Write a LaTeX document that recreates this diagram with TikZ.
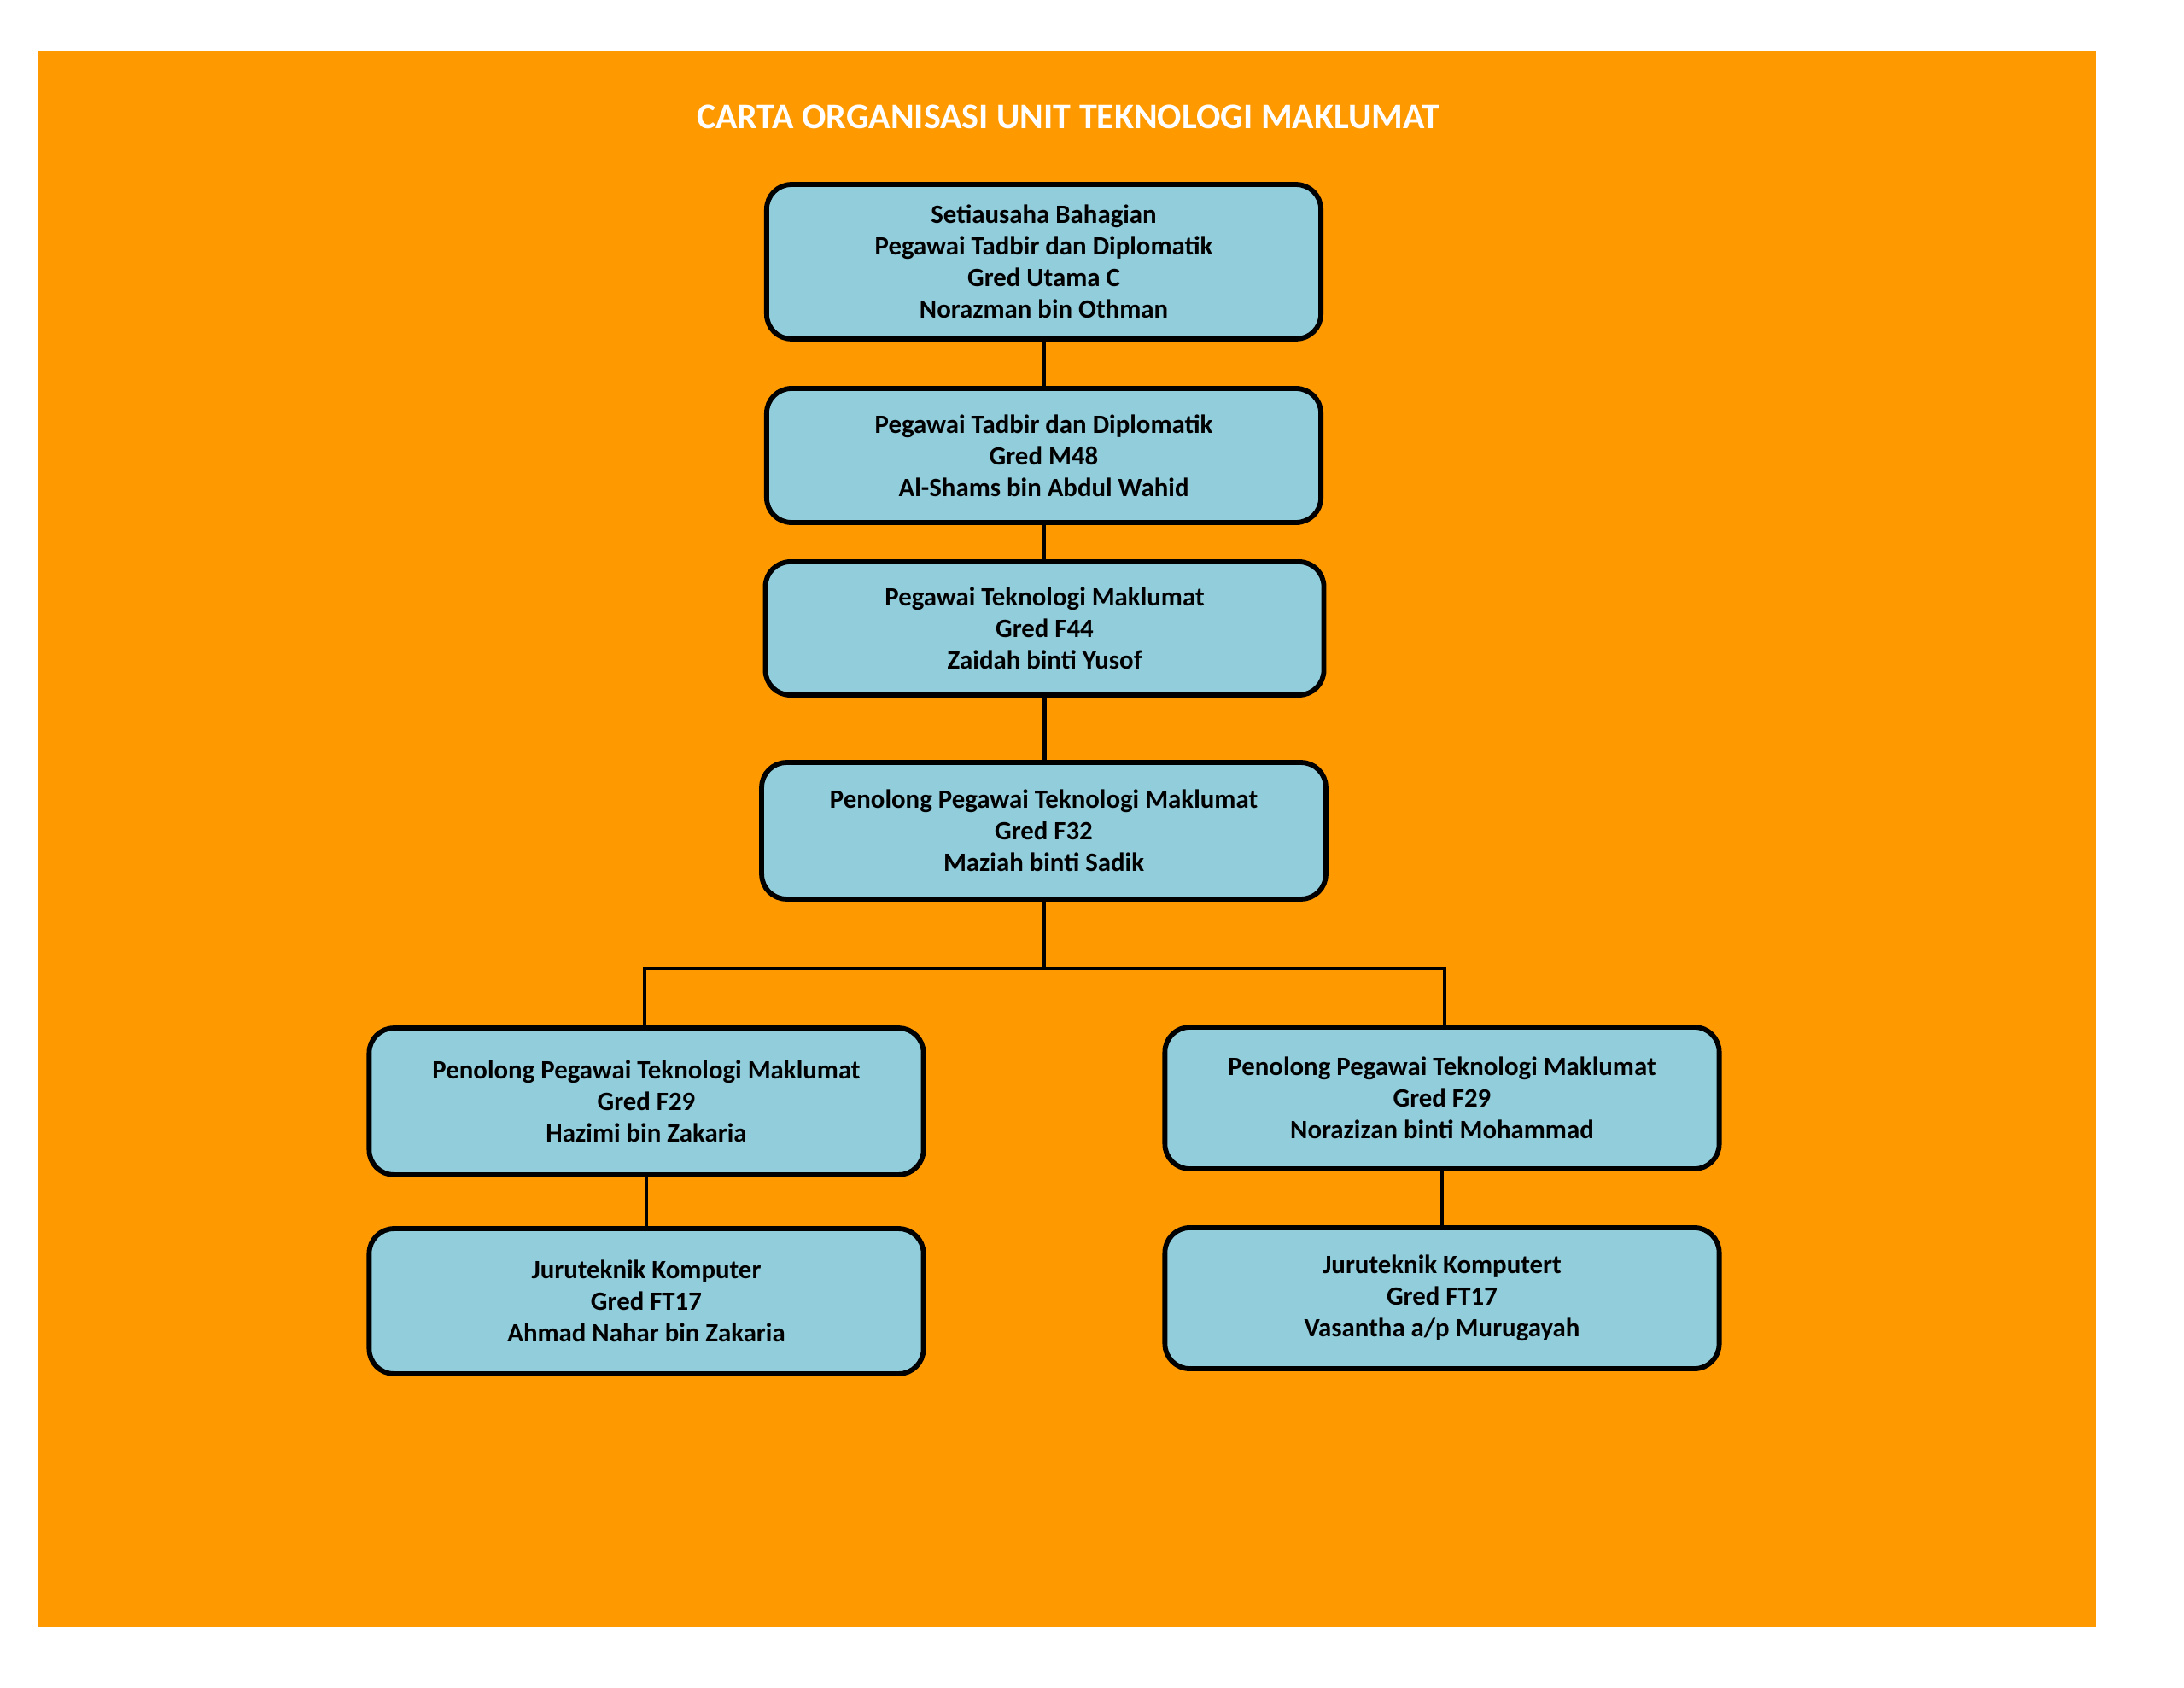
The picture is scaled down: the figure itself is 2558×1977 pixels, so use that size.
\documentclass[tikz,border=0pt]{standalone}
\usepackage{fontspec}
\setmainfont{Carlito}
\definecolor{bgorange}{RGB}{255,153,0}
\definecolor{boxblue}{RGB}{146,205,220}
\begin{document}
\begin{tikzpicture}[x=0.3096pt,y=-0.3096pt,
  orgbox/.style={draw=black,line width=1.8pt,fill=boxblue,rounded corners=9pt,
    align=center,inner sep=0pt,minimum width=201pt,
    font=\bfseries\fontsize{9.55}{11.5}\selectfont},
  link/.style={draw=black,line width=1.25pt}]
\useasboundingbox (0,0) rectangle (2558,1977);
\fill[bgorange] (44,60) rectangle (2455,1905);
\node[text=white,font=\bfseries\fontsize{13}{15}\selectfont,anchor=base] (title) at (1251,151) {CARTA ORGANISASI UNIT TEKNOLOGI MAKLUMAT};
\node[orgbox,minimum height=56pt] (b1) at (1222.5,306.5) {Setiausaha Bahagian\\Pegawai Tadbir dan Diplomatik\\Gred Utama C\\Norazman bin Othman};
\node[orgbox,minimum height=48.6pt] (b2) at (1222.5,533.5) {Pegawai Tadbir dan Diplomatik\\Gred M48\\Al-Shams bin Abdul Wahid};
\node[orgbox,minimum height=48.3pt,minimum width=202.5pt] (b3) at (1223.5,736) {Pegawai Teknologi Maklumat\\Gred F44\\Zaidah binti Yusof};
\node[orgbox,minimum height=49.5pt,minimum width=204.6pt] (b4) at (1222.5,973) {Penolong Pegawai Teknologi Maklumat\\Gred F32\\Maziah binti Sadik};
\node[orgbox,minimum height=53.2pt] (b5) at (757,1290) {Penolong Pegawai Teknologi Maklumat\\Gred F29\\Hazimi bin Zakaria};
\node[orgbox,minimum height=51.4pt] (b6) at (1689,1286) {Penolong Pegawai Teknologi Maklumat\\Gred F29\\Norazizan binti Mohammad};
\node[orgbox,minimum height=52.6pt] (b7) at (757,1524) {Juruteknik Komputer\\Gred FT17\\Ahmad Nahar bin Zakaria};
\node[orgbox,minimum height=51.1pt] (b8) at (1689,1520.5) {Juruteknik Komputert\\Gred FT17\\Vasantha a/p Murugayah};
\coordinate (bar) at (1224,1134);
\coordinate (barl) at (755,1134);
\coordinate (barr) at (1692,1134);
\draw[link] (b1.south) -- (b2.north);
\draw[link] (b2.south) -- (b2.south |- b3.north);
\draw[link] (b3.south) -- (b3.south |- b4.north);
\draw[link] (b4.south) -- (b4.south |- bar);
\draw[link] (b5.north -| barl) -- (barl) -- (barr) -- (b6.north -| barr);
\draw[link] (b5.south) -- (b7.north);
\draw[link] (b6.south) -- (b8.north);
\end{tikzpicture}
\end{document}
